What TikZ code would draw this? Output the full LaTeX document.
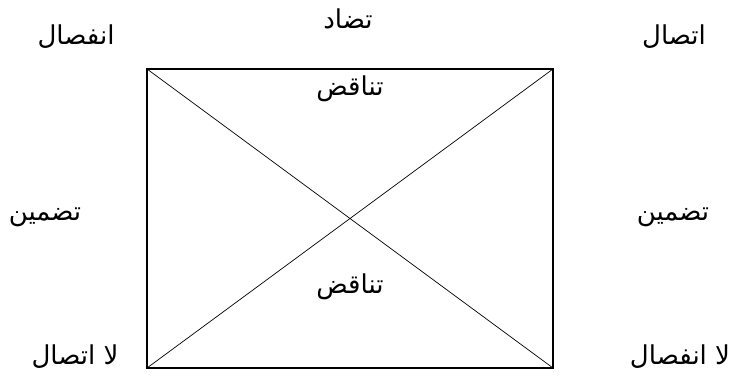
\documentclass[tikz,border=0pt]{standalone}
\usepackage{fontspec}
\TeXXeTstate=1
\newfontfamily\arabicfont[Script=Arabic]{DejaVu Sans}
\tikzset{lbl/.style={inner sep=0pt, font=\arabicfont\fontsize{26}{30}\selectfont}}
\newcommand{\ar}[1]{\beginR #1\endR}
\begin{document}
\begin{tikzpicture}[x=1pt,y=1pt]
\useasboundingbox (0,0) rectangle (751,379);
\coordinate (tl) at (147,310);
\coordinate (tr) at (553,310);
\coordinate (bl) at (147,11);
\coordinate (br) at (553,11);
\draw[line width=1.8pt] (tl) rectangle (br);
\draw[line width=0.7pt] (tl) -- (br);
\draw[line width=0.7pt] (tr) -- (bl);
\node[lbl] (tadad) at (348,360) {\ar{تضاد}};
\node[lbl] (infisal) at (76,342) {\ar{انفصال}};
\node[lbl] (ittisal) at (674,342) {\ar{اتصال}};
\node[lbl] (tanaqud1) at (350,290) {\ar{تناقض}};
\node[lbl] (tanaqud2) at (350,92) {\ar{تناقض}};
\node[lbl] (tadmin1) at (45,162) {\ar{تضمين}};
\node[lbl] (tadmin2) at (673,162) {\ar{تضمين}};
\node[lbl] (laittisal) at (75,22) {\ar{لا اتصال}};
\node[lbl] (lainfisal) at (680,22) {\ar{لا انفصال}};
\end{tikzpicture}
\end{document}
